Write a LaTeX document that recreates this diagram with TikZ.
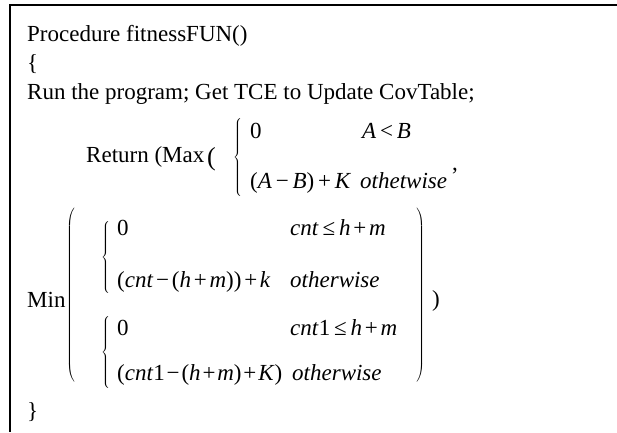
\documentclass[tikz,border=0pt]{standalone}
\usepackage{fontspec}
\setmainfont{Liberation Serif}
\newcommand{\os}{\hspace{0.12em}}
\newcommand{\tallbrace}[1]{$\left\{\vcenter{\hbox{\vrule height #1 width 0pt}}\right.$}
\newcommand{\tallopen}[1]{$\left(\vcenter{\hbox{\vrule height #1 width 0pt}}\right.$}
\newcommand{\tallclose}[1]{$\left.\vcenter{\hbox{\vrule height #1 width 0pt}}\right)$}
\tikzstyle{frame} = [line width=2pt]
\tikzstyle{txt} = [anchor=base west, inner sep=0pt, font=\fontsize{23}{27}\selectfont]
\tikzstyle{delim} = [anchor=west, inner sep=0pt, font=\fontsize{23}{27}\selectfont]

\begin{document}
\begin{tikzpicture}[x=1pt, y=-1pt]
\useasboundingbox (0,0) rectangle (617,432);

% box edges
\coordinate (topright) at (617,4.5);
\coordinate (corner) at (9.5,4.5);
\coordinate (bottomleft) at (9.5,432);
\draw[frame] (topright) -- (corner) -- (bottomleft);

\node[txt] (proc) at (27,41) {Procedure fitnessFUN()};
\node[txt] (open) at (27,70) {\{};
\node[txt] (run) at (27,99) {Run the program; Get TCE to Update CovTable;};

% Return (Max ...
\node[txt] (ret) at (86,162) {Return (Max};
\node[txt, font=\fontsize{26}{30}\selectfont] (maxparen) at (207,165) {(};
\node[delim] (bracemax) at (233,157) {\tallbrace{80pt}};
\node[txt] (maxzero) at (250,138) {0};
\node[txt] (maxcond) at (362,138) {\textit{A}\,<\,\textit{B}};
\node[txt] (maxval) at (250,188) {(\textit{A}\,−\,\textit{B})\,+\,\textit{K}};
\node[txt] (maxelse) at (360,188) {\textit{othetwise}};
\node[txt] (comma) at (452,170) {,};

% Min ...
\node[txt] (min) at (27,307) {Min};
\node[delim] (minopen) at (66,295) {\tallopen{176pt}};
\node[delim] (minclose) at (415,295) {\tallclose{176pt}};
\node[txt] (close) at (432,306) {)};

\node[delim] (bracecnt) at (101,257) {\tallbrace{76pt}};
\node[txt] (cntzero) at (117,235) {0};
\node[txt] (cntcond) at (290,235) {\textit{cnt}\,≤\,\textit{h}\os+\os\textit{m}};
\node[txt] (cntval) at (117,287) {(\textit{cnt}\os−\os(\textit{h}\os+\os\textit{m}))\os+\os\textit{k}};
\node[txt] (cntelse) at (290,287) {\textit{otherwise}};

\node[delim] (braceone) at (101,352) {\tallbrace{72pt}};
\node[txt] (onezero) at (117,335) {0};
\node[txt] (onecond) at (290,335) {\textit{cnt}1\,≤\,\textit{h}\os+\os\textit{m}};
\node[txt] (oneval) at (117,380) {(\textit{cnt}1\hspace{0.08em}−\hspace{0.08em}(\textit{h}\hspace{0.08em}+\hspace{0.08em}\textit{m})\hspace{0.08em}+\hspace{0.08em}\textit{K})};
\node[txt] (oneelse) at (292,380) {\textit{otherwise}};

\node[txt] (shut) at (27,418) {\}};
\end{tikzpicture}
\end{document}
